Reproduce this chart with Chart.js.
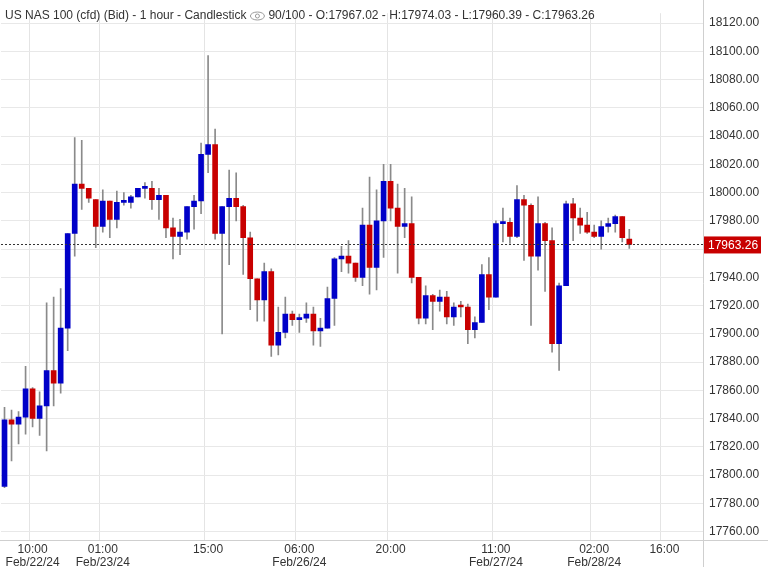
<!DOCTYPE html>
<html><head><meta charset="utf-8">
<script src="https://cdn.jsdelivr.net/npm/chart.js@4/dist/chart.umd.min.js"></script>
<style>html,body{margin:0;padding:0;background:#fff}#w{width:768px;height:567px;position:relative}</style>
</head><body><div id="w"><canvas id="c"></canvas></div>
<script>
const opens  = [17792,17839,17836,17841,17861,17840,17849,17874,17865,17904,17971,18006,18003,17995,17976,17994,17981,17993,17993,17997,18003,18003,17995,17998,17975,17969,17972,17990,17994,18027,18034,17971,17990,17996,17990,17968,17939,17924,17944,17892,17901,17914,17910,17911,17914,17902,17904,17925,17953,17955,17950,17940,17977,17947,17980,18008,17989,17976,17978,17940,17911,17927,17923,17926,17912,17920,17919,17903,17908,17942,17926,17978,17979,17969,17995,17991,17955,17978,17966,17893,17934,17992,17982,17977,17972,17969,17976,17978,17983,17967.02];
const highs  = [17848,17846,17845,17877,17862,17859,17922,17926,17932,17971,18039,18037,18003,17995,18002,17994,18001,18000,17998,18003,18007,18008,18003,17998,17982,17981,17990,17998,18035,18097,18045,17990,18016,18014,17991,17972,17939,17950,17946,17919,17926,17916,17914,17922,17919,17911,17933,17954,17962,17966,17950,17989,18011,18002,18020,18020,18006,18003,17997,17940,17934,17928,17931,17930,17922,17923,17921,17912,17949,17954,17980,17989,17982,18005,17998,17992,17997,17979,17975,17936,17994,17996,17989,17986,17977,17980,17982,17984,17983,17974.03];
const lows   = [17791,17810,17822,17829,17834,17828,17817,17849,17858,17888,17955,17988,17993,17961,17972,17968,17975,17991,17989,17997,17996,17988,17981,17968,17953,17956,17967,17974,17985,18014,17967,17900,17949,17980,17942,17917,17909,17909,17884,17885,17897,17906,17901,17908,17892,17891,17904,17906,17944,17943,17937,17934,17928,17931,17954,17980,17943,17968,17936,17907,17907,17903,17916,17907,17906,17912,17893,17897,17908,17917,17926,17965,17964,17968,17952,17906,17945,17930,17887,17874,17934,17966,17971,17971,17968,17960,17972,17972,17965,17960.39];
const closes = [17839,17836,17841,17861,17840,17849,17874,17865,17904,17971,18006,18003,17996,17976,17994,17981,17993,17993.5,17997,18003,18003,17995,17998,17975,17969,17972,17990,17994,18027,18034,17971,17990,17996,17990,17968,17939,17924,17944,17892,17901,17914,17910,17910,17914,17902,17904,17925,17953,17955,17950,17940,17977,17947,17980,18008,17989,17976,17978,17940,17911,17927,17923,17926,17912,17919,17919,17903,17908,17942,17926,17978,17978,17969,17995,17991,17955,17978,17966,17893,17934,17992,17982,17977,17972,17969,17976,17978,17983,17968,17963.26];
const totalSlots = 100;
const tickIdx   = [4,14,29,42,55,70,84,94];
const tickTimes = ["10:00","01:00","15:00","06:00","20:00","11:00","02:00","16:00"];
const tickDates = ["Feb/22/24","Feb/23/24","","Feb/26/24","","Feb/27/24","Feb/28/24",""];
const yTicks = [];
for (let v = 17760; v <= 18140; v += 20) yTicks.push(v);
const lastPrice = 17963.26;
const topCutLabel = 18140;
const titleText = "US NAS 100 (cfd) (Bid) - 1 hour - Candlestick";
const titleText2 = "90/100 - O:17967.02 - H:17974.03 - L:17960.39 - C:17963.26";

const labels = [];
for (let i = 0; i < totalSlots; i++) {
  const k = tickIdx.indexOf(i);
  labels.push(k >= 0 ? [tickTimes[k], tickDates[k]] : "");
}
const wicks = opens.map((o,i)=>[lows[i],highs[i]]);
const bodies = opens.map((o,i)=>[o,closes[i]]);
const bodyCol = opens.map((o,i)=> closes[i] < o ? '#c80000' : '#0000c8');

const overlay = {
  id:'overlay',
  afterDatasetsDraw(ch){
    const ctx = ch.ctx, a = ch.chartArea, ys = ch.scales.y, y = ys.getPixelForValue(lastPrice);
    ctx.save();
    ctx.strokeStyle = '#333'; ctx.setLineDash([2,2]); ctx.lineWidth = 1;
    ctx.beginPath(); ctx.moveTo(a.left, Math.round(y)+0.5); ctx.lineTo(a.right, Math.round(y)+0.5); ctx.stroke();
    ctx.setLineDash([]);
    ctx.fillStyle = '#c80000'; ctx.fillRect(a.right+1, y-8, 57, 17);
    ctx.fillStyle = '#fff'; ctx.font = '12px "Liberation Sans", Arial'; ctx.textBaseline = 'middle'; ctx.textAlign='left';
    ctx.fillText(lastPrice.toFixed(2), a.right+5, y+1);
    ctx.fillStyle = '#333';
    ctx.fillText(topCutLabel.toFixed(2), a.right+6, ys.getPixelForValue(topCutLabel));
    ctx.fillText(titleText, 5, 16);
    const w1 = ctx.measureText(titleText).width;
    const ex = 5 + w1 + 11;
    ctx.strokeStyle = '#999'; ctx.lineWidth = 1;
    ctx.beginPath(); ctx.ellipse(ex, 16, 7, 4, 0, 0, Math.PI*2); ctx.stroke();
    ctx.beginPath(); ctx.arc(ex, 16, 2, 0, Math.PI*2); ctx.stroke();
    ctx.fillText(titleText2, ex + 11, 16);
    ctx.strokeStyle = '#cfcfcf';
    ctx.beginPath(); ctx.moveTo(a.right+0.5, 0); ctx.lineTo(a.right+0.5, ch.height); ctx.stroke();
    ctx.beginPath(); ctx.moveTo(0, a.bottom+0.5); ctx.lineTo(ch.width, a.bottom+0.5); ctx.stroke();
    ctx.restore();
  }
};

new Chart(document.getElementById('c'), {
  type:'bar',
  data:{labels, datasets:[
    {data:wicks, backgroundColor:'#8a8a8a', barThickness:1, grouped:false, order:2},
    {data:bodies, backgroundColor:bodyCol, barThickness:5, grouped:false, minBarLength:2, order:1}
  ]},
  options:{
    responsive:true, maintainAspectRatio:false, animation:false,
    layout:{padding:{left:1, top:0, right:0, bottom:0}},
    plugins:{legend:{display:false}, tooltip:{enabled:false}},
    scales:{
      x:{
        afterFit:(s)=>{ s.height = 27; },
        grid:{color:(c)=> (c.index!==undefined && tickIdx.includes(c.index)) ? '#e4e4e4' : 'rgba(0,0,0,0)', drawTicks:false},
        border:{display:false},
        ticks:{autoSkip:false, maxRotation:0, minRotation:0, padding:3, color:'#333', font:{size:12, family:'"Liberation Sans", Arial', lineHeight:1.1}}
      },
      y:{
        position:'right', min:17754, max:18127,
        afterBuildTicks:(s)=>{ s.ticks = yTicks.map(v=>({value:v})); },
        afterFit:(s)=>{ s.width = 65; },
        grid:{color:'#e8e8e8', drawTicks:false},
        border:{display:false},
        ticks:{padding:6, color:'#333', font:{size:12, family:'"Liberation Sans", Arial'}, callback:(v)=>Number(v).toFixed(2)}
      }
    }
  },
  plugins:[overlay]
});
</script></body></html>
